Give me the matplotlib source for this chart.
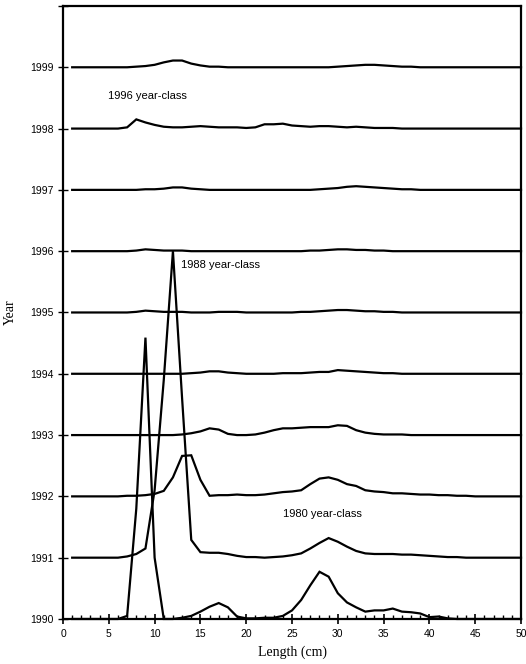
import numpy as np
import matplotlib
matplotlib.use("Agg")
import matplotlib.pyplot as plt
from matplotlib.ticker import MultipleLocator

# length classes (cm)
lengths = np.arange(1, 51)

# relative frequency per length class, one list per survey year (1..50 cm)
f1990 = [0, 0, 0, 0, 0, 0, 0.05, 1.8, 4.59, 1.0,
         0, 0, 0.02, 0.05, 0.12, 0.2, 0.26, 0.19, 0.04, 0.01,
         0.01, 0.02, 0.02, 0.05, 0.14, 0.31, 0.55, 0.77, 0.69, 0.42,
         0.27, 0.19, 0.12, 0.14, 0.14, 0.17, 0.12, 0.11, 0.09, 0.03,
         0.04, 0.01, 0, 0, 0, 0, 0, 0, 0, 0]
f1991 = [0, 0, 0, 0, 0, 0, 0.02, 0.06, 0.15, 1.1,
         2.9, 5.0, 2.6, 0.29, 0.09, 0.08, 0.08, 0.06, 0.03, 0.01,
         0.01, 0.0, 0.01, 0.02, 0.04, 0.07, 0.15, 0.24, 0.32, 0.26,
         0.18, 0.11, 0.07, 0.06, 0.06, 0.06, 0.05, 0.05, 0.04, 0.03,
         0.02, 0.01, 0.01, 0, 0, 0, 0, 0, 0, 0]
f1992 = [0, 0, 0, 0, 0, 0, 0.01, 0.01, 0.02, 0.04,
         0.09, 0.31, 0.66, 0.67, 0.27, 0.01, 0.02, 0.02, 0.03, 0.02,
         0.02, 0.03, 0.05, 0.07, 0.08, 0.1, 0.2, 0.29, 0.31, 0.27,
         0.2, 0.17, 0.1, 0.08, 0.07, 0.05, 0.05, 0.04, 0.03, 0.03,
         0.02, 0.02, 0.01, 0.01, 0, 0, 0, 0, 0, 0]
f1993 = [0, 0, 0, 0, 0, 0, 0, 0, 0, 0,
         0, 0, 0.01, 0.03, 0.06, 0.11, 0.09, 0.02, 0.0, 0.0,
         0.01, 0.04, 0.08, 0.11, 0.11, 0.12, 0.13, 0.13, 0.13, 0.16,
         0.15, 0.08, 0.04, 0.02, 0.01, 0.01, 0.01, 0, 0, 0,
         0, 0, 0, 0, 0, 0, 0, 0, 0, 0]
f1994 = [0, 0, 0, 0, 0, 0, 0, 0, 0, 0,
         0, 0, 0, 0.01, 0.02, 0.04, 0.04, 0.02, 0.01, 0.0,
         0.0, 0.0, 0.0, 0.01, 0.01, 0.01, 0.02, 0.03, 0.03, 0.06,
         0.05, 0.04, 0.03, 0.02, 0.01, 0.01, 0, 0, 0, 0,
         0, 0, 0, 0, 0, 0, 0, 0, 0, 0]
f1995 = [0, 0, 0, 0, 0, 0, 0, 0.01, 0.03, 0.02,
         0.01, 0.01, 0.01, 0.0, 0.0, 0.0, 0.01, 0.01, 0.01, 0.0,
         0.0, 0.0, 0.0, 0.0, 0.0, 0.01, 0.01, 0.02, 0.03, 0.04,
         0.04, 0.03, 0.02, 0.02, 0.01, 0.01, 0, 0, 0, 0,
         0, 0, 0, 0, 0, 0, 0, 0, 0, 0]
f1996 = [0, 0, 0, 0, 0, 0, 0, 0.01, 0.03, 0.02,
         0.01, 0.01, 0.01, 0.0, 0.0, 0.0, 0.0, 0.0, 0.0, 0.0,
         0.0, 0.0, 0.0, 0.0, 0.0, 0.0, 0.01, 0.01, 0.02, 0.03,
         0.03, 0.02, 0.02, 0.01, 0.01, 0, 0, 0, 0, 0,
         0, 0, 0, 0, 0, 0, 0, 0, 0, 0]
f1997 = [0, 0, 0, 0, 0, 0, 0, 0, 0.01, 0.01,
         0.02, 0.04, 0.04, 0.02, 0.01, 0.0, 0.0, 0.0, 0.0, 0.0,
         0.0, 0.0, 0.0, 0.0, 0.0, 0.0, 0.0, 0.01, 0.02, 0.03,
         0.05, 0.06, 0.05, 0.04, 0.03, 0.02, 0.01, 0.01, 0, 0,
         0, 0, 0, 0, 0, 0, 0, 0, 0, 0]
f1998 = [0, 0, 0, 0, 0, 0, 0.02, 0.15, 0.1, 0.06,
         0.03, 0.02, 0.02, 0.03, 0.04, 0.03, 0.02, 0.02, 0.02, 0.01,
         0.02, 0.07, 0.07, 0.08, 0.05, 0.04, 0.03, 0.04, 0.04, 0.03,
         0.02, 0.03, 0.02, 0.01, 0.01, 0.01, 0, 0, 0, 0,
         0, 0, 0, 0, 0, 0, 0, 0, 0, 0]
f1999 = [0, 0, 0, 0, 0, 0, 0, 0.01, 0.02, 0.04,
         0.08, 0.11, 0.11, 0.06, 0.03, 0.01, 0.01, 0.0, 0.0, 0.0,
         0.0, 0.0, 0.0, 0.0, 0.0, 0.0, 0.0, 0.0, 0.0, 0.01,
         0.02, 0.03, 0.04, 0.04, 0.03, 0.02, 0.01, 0.01, 0, 0,
         0, 0, 0, 0, 0, 0, 0, 0, 0, 0]

years = [1990, 1991, 1992, 1993, 1994, 1995, 1996, 1997, 1998, 1999]
series = [f1990, f1991, f1992, f1993, f1994, f1995, f1996, f1997, f1998, f1999]

fig = plt.figure(figsize=(5.26, 6.64), dpi=100)
ax = fig.add_axes([0.1198, 0.0678, 0.8707, 0.9232])

for yr, freq in zip(years, series):
    ax.plot(lengths, yr + np.array(freq), color="black", lw=1.6,
            solid_joinstyle="miter", clip_on=False)

ax.text(4.9, 1998.53, "1996 year-class", fontsize=8, family="Liberation Sans", va="center")
ax.text(12.9, 1995.77, "1988 year-class", fontsize=8, family="Liberation Sans", va="center")
ax.text(24.0, 1991.71, "1980 year-class", fontsize=8, family="Liberation Sans", va="center")

ax.set_xlim(0, 50)
ax.set_ylim(1990, 2000)
ax.xaxis.set_major_locator(MultipleLocator(5))
ax.xaxis.set_minor_locator(MultipleLocator(1))
ax.set_yticks(range(1990, 2001))
ax.set_yticklabels([str(y) for y in range(1990, 2000)] + [""])
ax.tick_params(axis="x", which="major", direction="inout", length=7, width=1.2, labelsize=7.5)
ax.tick_params(axis="x", which="minor", direction="in", length=3, width=1)
ax.tick_params(axis="y", direction="inout", length=7, width=1, labelsize=7.5)
for lab in ax.get_xticklabels() + ax.get_yticklabels():
    lab.set_family("Liberation Sans")
for s in ax.spines.values():
    s.set_linewidth(1.6)

ax.set_xlabel("Length (cm)", family="Liberation Serif", fontsize=10, labelpad=5)
ax.set_ylabel("Year", family="Liberation Serif", fontsize=10, labelpad=9)

fig.savefig("out.png", dpi=100)
